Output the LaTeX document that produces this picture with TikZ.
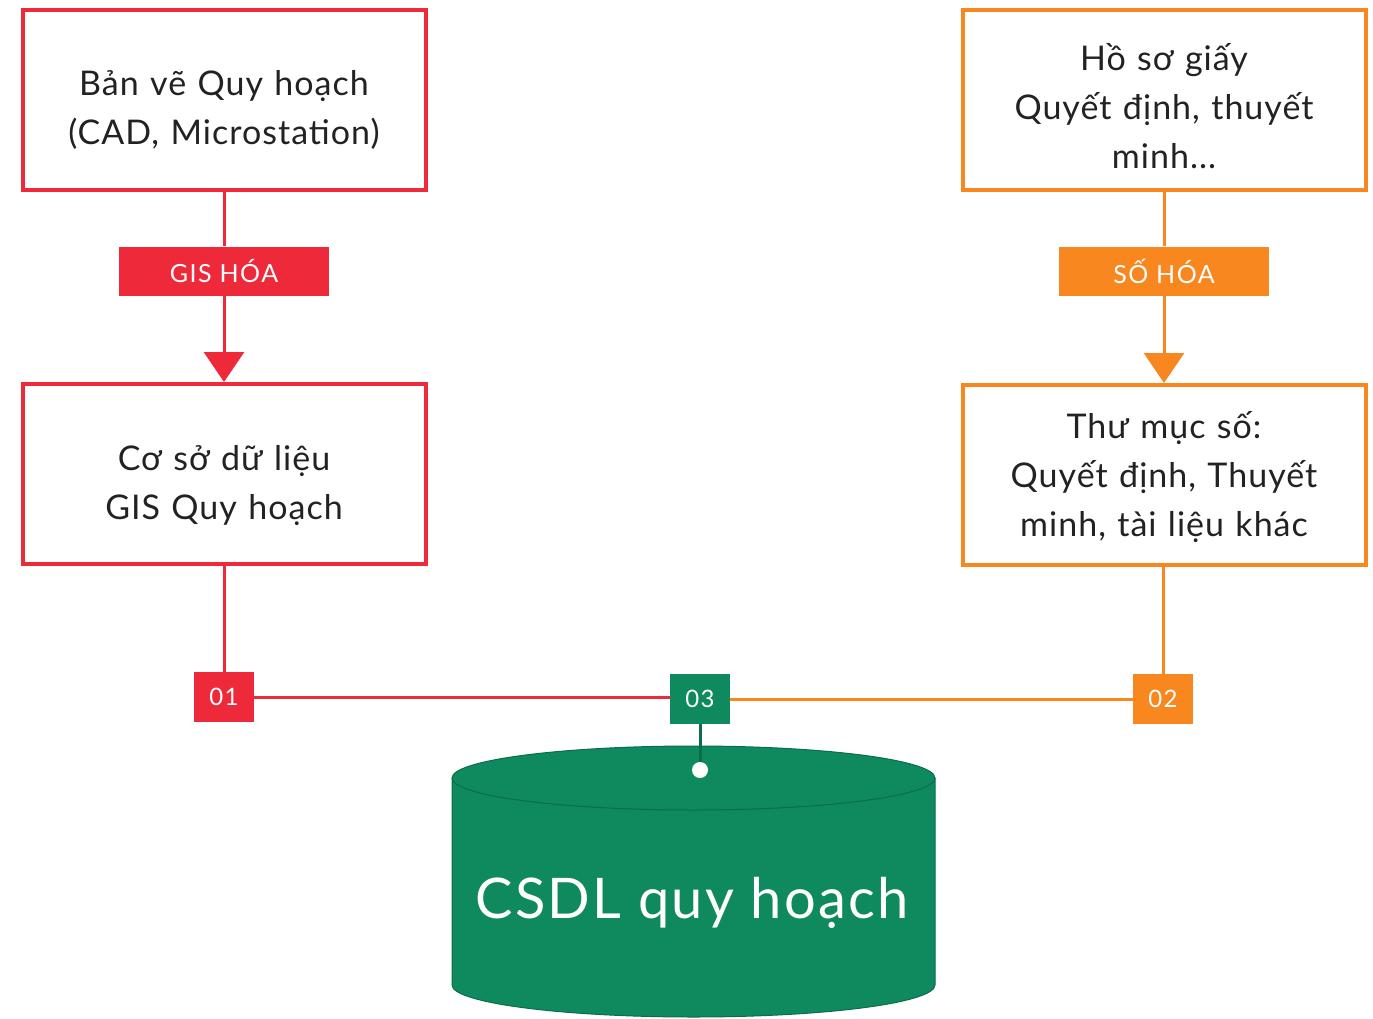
\documentclass[tikz,border=0pt]{standalone}
\usepackage{fontspec}
\setmainfont{Lato}
\newfontfamily\boxfont{Lato}[LetterSpace=3]
\newfontfamily\tagfont{Lato}[LetterSpace=6]
\newfontfamily\dbfont{Lato}[LetterSpace=4]
\usepackage{tikz}
\usetikzlibrary{arrows.meta,positioning,calc}
\definecolor{qhred}{HTML}{EE2A3A}
\definecolor{qhorange}{HTML}{F7871E}
\definecolor{qhgreen}{HTML}{0E8A5E}
\definecolor{qhdark}{HTML}{0A6E4A}
\definecolor{qhtext}{HTML}{222222}
\tikzset{
  % Khung nguon
  src box/.style = {
    draw=#1, line width=4pt,
    minimum width=403pt, minimum height=180pt
  },
  src text/.style = {
    text width=390pt, align=center, text=qhtext,
    font=\boxfont\fontsize{34}{49}\selectfont
  },
  % Nhan tren duong noi
  tag/.style = {
    fill=#1, text=white, inner sep=0pt,
    minimum width=210pt, minimum height=49pt,
    font=\tagfont\fontsize{25}{28}\selectfont
  },
  num/.style = {
    fill=#1, text=white, inner sep=0pt,
    minimum width=60pt, minimum height=50pt,
    font=\tagfont\fontsize{24}{26}\selectfont
  },
  % Duong, mui ten
  link/.style = {draw=#1, line width=3pt},
  drop/.style = {link=#1, -{Triangle[width=40pt,length=30pt]}},
}
\begin{document}
\begin{tikzpicture}[x=1pt, y=-1pt]
\useasboundingbox (0,0) rectangle (1373,1019);

\node[src box=qhred]     (ban)    at (224,100)  {};
\node[src box=qhred]     (gisdb)  at (224,474)  {};
\node[src box=qhorange]  (hoso)   at (1164,100) {};
\node[src box=qhorange]  (thumuc) at (1164,475) {};

\node[src text] (ban txt)    at (224,110)  {Bản vẽ Quy hoạch\\(CAD, Microstation)};
\node[src text] (gisdb txt)  at (224,486)  {Cơ sở dữ liệu\\GIS Quy hoạch};
\node[src text] (hoso txt)   at (1164,106) {Hồ sơ giấy\\Quyết định, thuyết\\minh...};
\node[src text] (thumuc txt) at (1164,477) {Thư mục số:\\Quyết định, Thuyết\\minh, tài liệu khác};

\node[tag=qhred]    (gis) at (224,271)  {GIS HÓA};
\node[tag=qhorange] (so)  at (1164,271) {SỐ HÓA};

\draw[link=qhred] (ban) -- (gis);
\draw[drop=qhred] (gis) -- (gisdb);
\draw[link=qhorange] (hoso) -- (so);
\draw[drop=qhorange] (so) -- (thumuc);

%---------------------------------------------
% CSDL
\coordinate (top) at (693.5,778);
\fill[qhgreen] (452,778) -- (452,985)
   arc[start angle=180, end angle=0, x radius=241.5, y radius=32]
   -- (935,778)
   arc[start angle=0, end angle=-180, x radius=241.5, y radius=32] -- cycle;
\draw[qhdark, line width=1pt] (452,778) -- (452,985)
   arc[start angle=180, end angle=0, x radius=241.5, y radius=32]
   -- (935,778);
\draw[qhdark, line width=1pt] (top) ellipse[x radius=241.5, y radius=32];
\node[text=white, font=\dbfont\fontsize{56}{60}\selectfont] (csdl) at (692,903) {CSDL quy hoạch};

\node[num=qhred]    (n1) at (224,697)  {01};
\node[num=qhorange] (n2) at (1163,699) {02};
\node[num=qhgreen]  (n3) at (700,699)  {03};

\draw[link=qhred] (gisdb) -- (n1);
\draw[link=qhorange] (thumuc.south -| n2) -- (n2);
\draw[link=qhred] (n1) -- (n1 -| n3.west);
\draw[link=qhorange] (n3) -- (n3 -| n2.west);

\coordinate (dot) at (700,770);
\draw[qhdark, line width=3pt] (n3) -- (dot);
\fill[white] (dot) circle (8);
\end{tikzpicture}
\end{document}
